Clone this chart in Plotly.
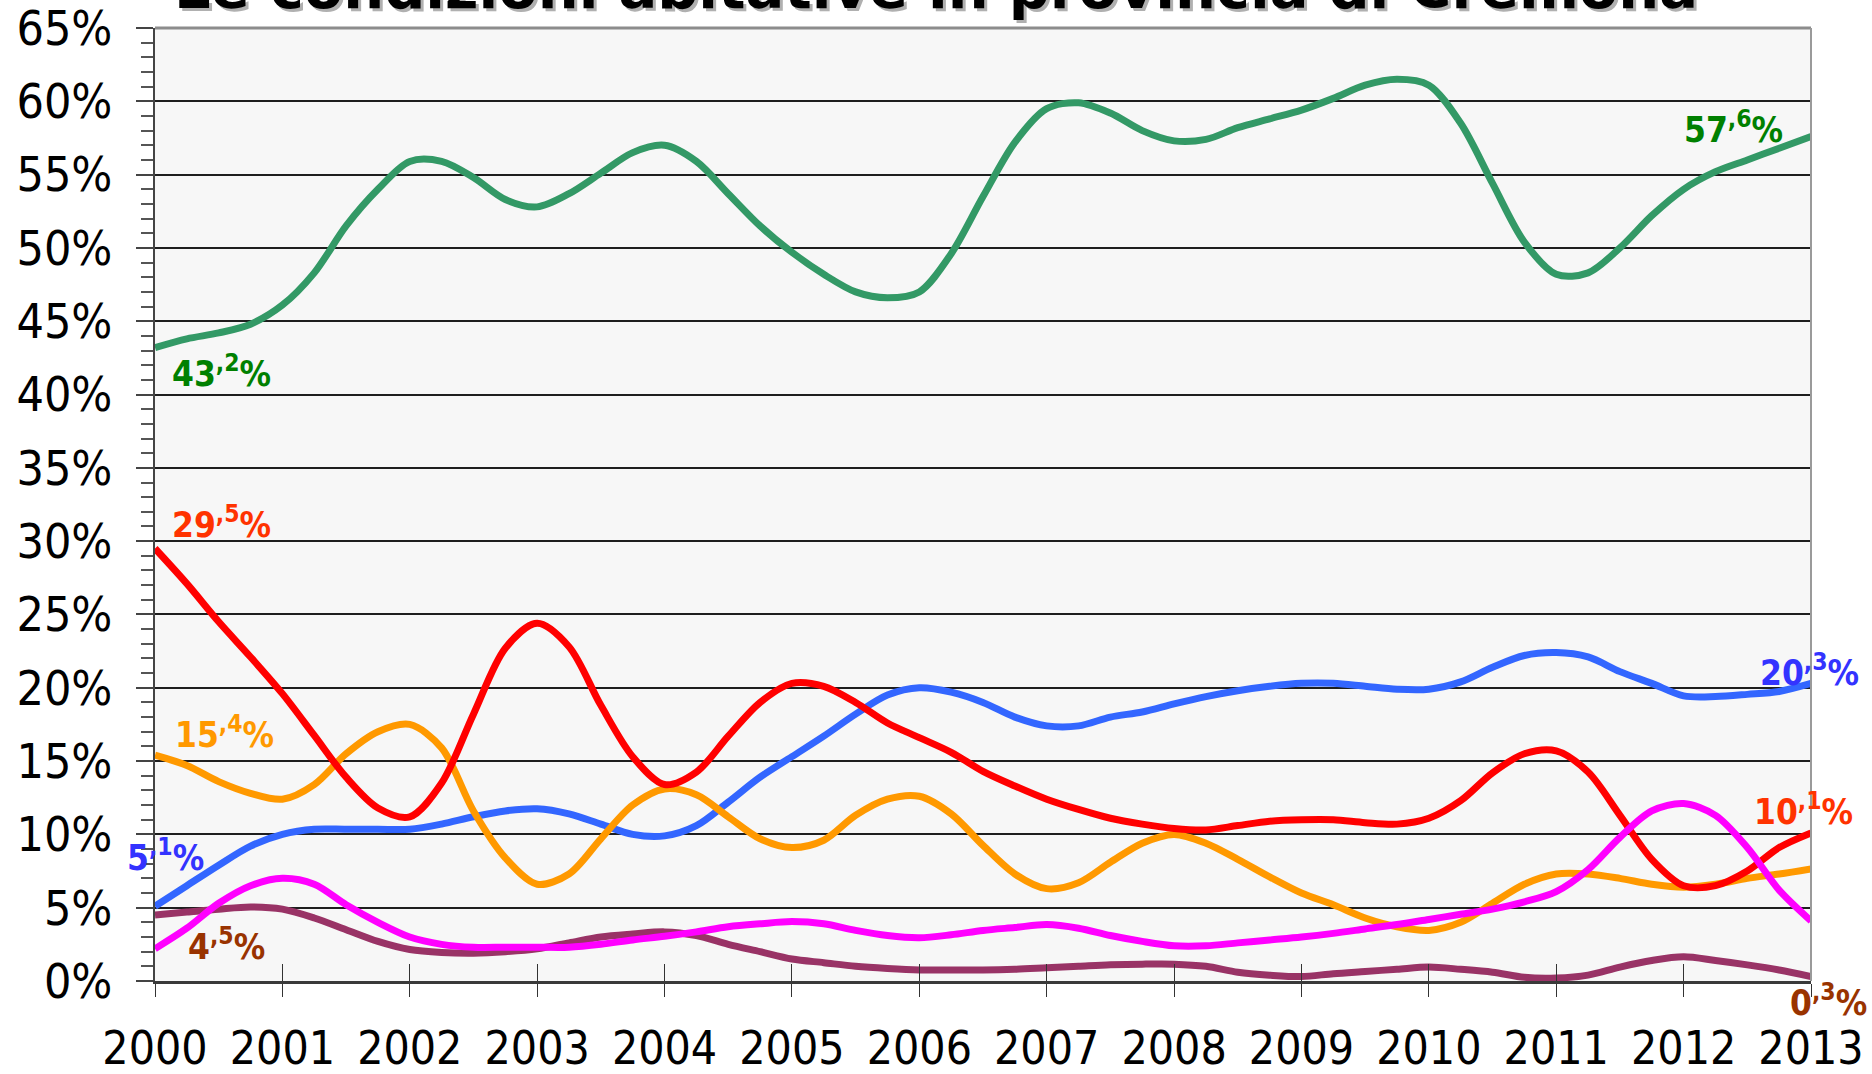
import plotly.graph_objects as go

# Quarterly sample points (2000.00 ... 2013.00)
periods = [2000 + q / 4 for q in range(53)]
years = list(range(2000, 2014))
y_ticks = list(range(0, 66, 5))

green = [43.2, 43.8, 44.2, 44.8, 46.1, 48.3, 51.5, 54.0, 55.9, 55.9, 54.8, 53.3, 52.8,
         53.7, 55.1, 56.5, 57.0, 55.9, 53.7, 51.5, 49.7, 48.2, 47.0, 46.6, 47.0,
         49.6, 53.5, 57.2, 59.5, 59.9, 59.2, 58.0, 57.3, 57.4, 58.2, 58.8, 59.4,
         60.2, 61.1, 61.5, 61.1, 58.5, 54.4, 50.4, 48.2, 48.3, 50.0, 52.2, 54.0,
         55.2, 56.0, 56.8, 57.6]
red = [29.5, 27.1, 24.5, 22.1, 19.6, 16.75, 13.9, 11.8, 11.2, 13.5, 18.2, 22.7, 24.4,
       22.8, 18.8, 15.3, 13.4, 14.25, 16.7, 19.0, 20.3, 20.1, 19.0, 17.6, 16.6,
       15.6, 14.3, 13.3, 12.4, 11.7, 11.1, 10.7, 10.4, 10.3, 10.6, 10.9, 11.0,
       11.0, 10.8, 10.7, 11.1, 12.3, 14.2, 15.5, 15.7, 14.25, 11.3, 8.3, 6.5,
       6.5, 7.5, 9.1, 10.1]
orange = [15.4, 14.7, 13.6, 12.8, 12.4, 13.4, 15.5, 17.0, 17.5, 15.9, 11.6, 8.4, 6.6,
          7.3, 9.7, 12.0, 13.1, 12.7, 11.2, 9.7, 9.1, 9.6, 11.3, 12.4, 12.6,
          11.4, 9.25, 7.3, 6.3, 6.7, 8.1, 9.4, 10.0, 9.4, 8.3, 7.1, 6.0,
          5.2, 4.3, 3.7, 3.45, 4.0, 5.3, 6.6, 7.3, 7.3, 7.0, 6.6, 6.4,
          6.6, 7.0, 7.3, 7.65]
blue = [5.1, 6.5, 7.9, 9.2, 10.0, 10.35, 10.35, 10.35, 10.35, 10.7, 11.2, 11.6, 11.75,
        11.4, 10.7, 10.0, 9.9, 10.6, 12.2, 13.9, 15.3, 16.7, 18.2, 19.5, 20.0,
        19.7, 19.0, 18.0, 17.4, 17.4, 18.0, 18.35, 18.9, 19.4, 19.8, 20.1, 20.3,
        20.3, 20.1, 19.9, 19.9, 20.4, 21.4, 22.2, 22.4, 22.1, 21.1, 20.3, 19.45,
        19.4, 19.55, 19.75, 20.3]
magenta = [2.2, 3.6, 5.3, 6.5, 7.0, 6.6, 5.2, 4.0, 3.0, 2.5, 2.3, 2.3, 2.3,
           2.3, 2.5, 2.8, 3.05, 3.35, 3.7, 3.9, 4.05, 3.9, 3.45, 3.1, 2.95,
           3.15, 3.45, 3.65, 3.85, 3.6, 3.1, 2.7, 2.4, 2.4, 2.6, 2.8, 3.0,
           3.25, 3.55, 3.85, 4.2, 4.55, 4.9, 5.4, 6.1, 7.6, 9.8, 11.6, 12.1,
           11.3, 9.1, 6.2, 4.1]
purple = [4.5, 4.7, 4.9, 5.05, 4.9, 4.3, 3.5, 2.7, 2.15, 1.95, 1.9, 2.0, 2.2,
          2.6, 3.0, 3.2, 3.35, 3.1, 2.5, 2.0, 1.5, 1.25, 1.0, 0.85, 0.75,
          0.75, 0.75, 0.8, 0.9, 1.0, 1.1, 1.15, 1.15, 1.0, 0.6, 0.4, 0.3,
          0.5, 0.65, 0.8, 0.95, 0.8, 0.6, 0.25, 0.2, 0.4, 0.95, 1.4, 1.65,
          1.4, 1.1, 0.75, 0.3]

series = [
    ("purple", purple, "#993366"),
    ("blue", blue, "#3366ff"),
    ("orange", orange, "#ff9900"),
    ("red", red, "#ff0000"),
    ("magenta", magenta, "#ff00ff"),
    ("green", green, "#339966"),
]

# value labels: (integer part, decimal part, x, y, x-shift px, y-shift px, color)
labels = [
    ("43", ",2", 2000.12, 41.6, 0, 0, "#008000"),
    ("57", ",6", 2011.99, 58.25, 0, 0, "#008000"),
    ("29", ",5", 2000.12, 31.3, 0, 0, "#ff3300"),
    ("15", ",4", 2000.14, 17.0, 0, 0, "#ff9900"),
    ("5", ",1", 2000.0, 8.6, -30, 0, "#3333ff"),
    ("4", ",5", 2000.24, 2.5, 0, 0, "#993300"),
    ("20", ",3", 2012.58, 21.2, 0, 0, "#3333ff"),
    ("10", ",1", 2012.54, 11.7, 0, 0, "#ff3300"),
    ("0", ",3", 2012.82, 0.0, 0, -19, "#993300"),
]

title_text = "Le condizioni abitative in provincia di Cremona"

AX_FONT = "DejaVu Sans Condensed, DejaVu Sans, sans-serif"

fig = go.Figure()
for name, vals, col in series:
    fig.add_trace(go.Scatter(
        x=periods, y=vals, mode="lines", name=name,
        line=dict(color=col, width=7, shape="spline", smoothing=0.9),
        hoverinfo="skip", showlegend=False,
    ))
# helper trace on overlay axis (for inside x ticks)
fig.add_trace(go.Scatter(x=[years[0]], y=[None], xaxis="x2", mode="lines",
                         showlegend=False, hoverinfo="skip"))

for main, dec, x, y, xs, ys, col in labels:
    fig.add_annotation(
        x=x, y=y, xref="x", yref="y", xanchor="left", yanchor="middle",
        xshift=xs, yshift=ys,
        text=f"<b>{main}<sup>{dec}</sup>%</b>", showarrow=False,
        font=dict(family=AX_FONT, size=35, color=col),
    )

# title with shadow (cut at top of page like the reference)
for dx, dy, col in [(3, -3, "#b0b0b0"), (0, 0, "#000000")]:
    fig.add_annotation(
        x=0.4716, y=1, xref="paper", yref="paper", xanchor="center", yanchor="bottom",
        xshift=dx, yshift=4 + dy, text=f"<b>{title_text}</b>", showarrow=False,
        font=dict(family="DejaVu Sans, Verdana, sans-serif", size=57.5, color=col),
    )

# plot frame: top and right gray borders
fig.add_shape(type="line", xref="paper", yref="paper", x0=0, x1=1, y0=1, y1=1,
              line=dict(color="#8c8c8c", width=3), layer="above")
fig.add_shape(type="line", xref="paper", yref="paper", x0=1, x1=1, y0=0, y1=1,
              line=dict(color="#9a9a9a", width=2), layer="above")

fig.update_layout(
    width=1872, height=1074,
    margin=dict(l=155, r=61, t=28, b=93, autoexpand=False),
    paper_bgcolor="white", plot_bgcolor="#f7f7f7",
    showlegend=False,
    xaxis=dict(
        range=[2000, 2013], tickvals=years, ticktext=[str(y) for y in years],
        ticks="outside", ticklen=13, tickwidth=1, tickcolor="#333333",
        showgrid=False, zeroline=False, automargin=False,
        showline=True, linecolor="#3a3a3a", linewidth=3,
        tickfont=dict(family=AX_FONT, size=46, color="black"),
        ticklabelstandoff=12, ticklabeloverflow="allow",
    ),
    xaxis2=dict(
        range=[2000, 2013], overlaying="x", side="bottom", anchor="y",
        tickvals=years, ticks="inside", ticklen=17, tickwidth=1, tickcolor="#333333",
        showticklabels=False, showgrid=False, zeroline=False, showline=False,
        automargin=False,
    ),
    yaxis=dict(
        range=[0, 65], tickvals=y_ticks, ticktext=[f"{v}%" for v in y_ticks],
        ticks="outside", ticklen=17, tickwidth=2, tickcolor="#444444",
        showgrid=True, gridcolor="#1e1e1e", gridwidth=1.5,
        zeroline=False, showline=True, linecolor="#444444", linewidth=2,
        tickfont=dict(family=AX_FONT, size=48, color="black"),
        ticklabelstandoff=14, automargin=False, ticklabeloverflow="allow",
        minor=dict(dtick=1, ticks="outside", ticklen=12, tickwidth=2,
                   tickcolor="#555555", showgrid=False),
    ),
)

fig.write_html(
    "out.html",
    config={"displayModeBar": False},
    post_script="document.body.style.margin='0';document.body.style.overflow='hidden';",
)
